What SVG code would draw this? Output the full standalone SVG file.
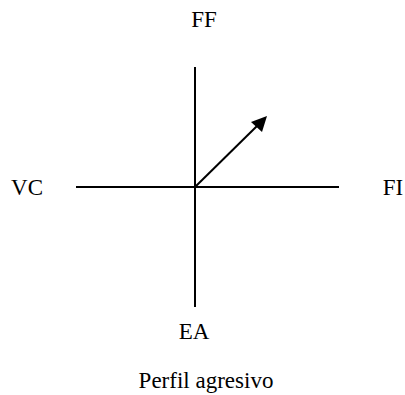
<svg xmlns="http://www.w3.org/2000/svg" width="405" height="395" viewBox="0 0 405 395">
<style>
.ax{stroke:#000;stroke-width:2;fill:none}
</style>
<rect width="405" height="395" fill="#fff"/>
<g id="connectors">
<line class="ax" x1="195" y1="67" x2="195" y2="307"/>
<line class="ax" x1="76" y1="187" x2="339" y2="187"/>
<line class="ax" x1="195" y1="187" x2="257" y2="126"/>
<polygon points="267,116 251,122 262,132" fill="#000"/>
</g>
<g id="FF"><text font-family="Liberation Serif" font-size="23" text-anchor="middle" x="204" y="27">FF</text></g>
<g id="VC"><text font-family="Liberation Serif" font-size="23" text-anchor="middle" x="27" y="195">VC</text></g>
<g id="FI"><text font-family="Liberation Serif" font-size="23" text-anchor="middle" x="393" y="195">FI</text></g>
<g id="EA"><text font-family="Liberation Serif" font-size="23" text-anchor="middle" x="194" y="339">EA</text></g>
<g id="caption"><text font-family="Liberation Serif" font-size="23" text-anchor="middle" x="206" y="388">Perfil agresivo</text></g>
</svg>
